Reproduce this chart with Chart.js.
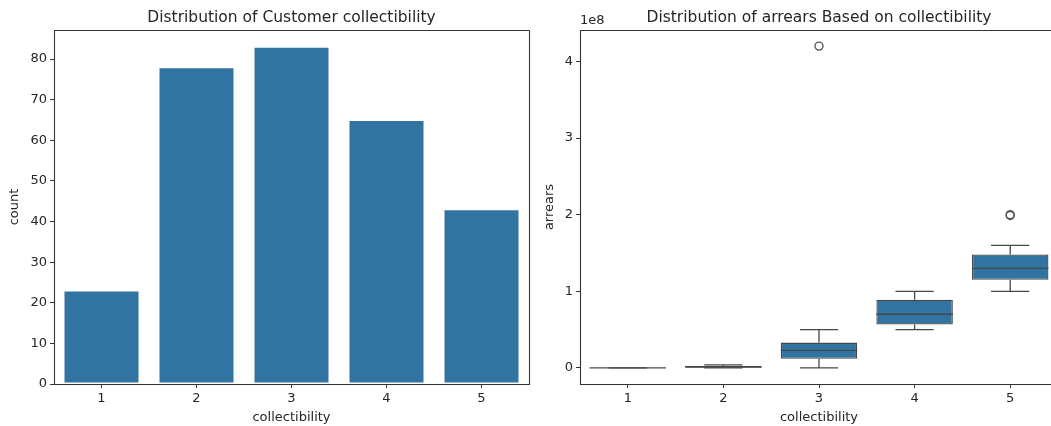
<!DOCTYPE html>
<html>
<head>
<meta charset="utf-8">
<script src="https://cdn.jsdelivr.net/npm/chart.js@4.4.1/dist/chart.umd.min.js"></script>
<style>
    html, body { margin: 0; padding: 0; background: #fff; overflow: hidden; width: 1051px; height: 426px; }
    canvas { position: absolute; top: 0; }
    #countChart { left: 0; }
    #arrearsChart { left: 535px; }
</style>
</head>
<body>
<canvas id="countChart" width="535" height="426"></canvas>
<canvas id="arrearsChart" width="535" height="426"></canvas>
<script>
// Data
const categories = ['1', '2', '3', '4', '5'];
const customerCounts = [23, 78, 83, 65, 43];
const countTicks = [0, 10, 20, 30, 40, 50, 60, 70, 80];

const arrearsWhiskerLow = [0, 0, 0, 0.5e8, 1.0e8];
const arrearsQ1 = [0, 0, 0.12e8, 0.565e8, 1.15e8];
const arrearsMedian = [0, 0.01e8, 0.23e8, 0.70e8, 1.30e8];
const arrearsQ3 = [0, 0.025e8, 0.33e8, 0.89e8, 1.48e8];
const arrearsWhiskerHigh = [0, 0.04e8, 0.5e8, 1.0e8, 1.6e8];
const outlierCats = ['3', '5', '5'];
const outlierVals = [4.2e8, 2.0e8, 1.99e8];
const arrearsTicks = [0, 1e8, 2e8, 3e8, 4e8];
const arrearsOffsetText = '1e8';

const FONT = 'DejaVu Sans';
const TEXT = '#262626';
const SPINE = '#333333';
const BLUE = '#3274a1';
const BOXLINE = '#474747';

Chart.defaults.font.family = FONT;
Chart.defaults.color = TEXT;
Chart.defaults.animation = false;

// Title drawn centred over the plot area, like matplotlib
function titlePlugin(text) {
    return {
        id: 'axTitle',
        afterDraw(chart) {
            const { ctx, chartArea } = chart;
            ctx.save();
            ctx.font = '15.5px "' + FONT + '"';
            ctx.fillStyle = TEXT;
            ctx.textAlign = 'center';
            ctx.textBaseline = 'alphabetic';
            ctx.fillText(text, (chartArea.left + chartArea.right) / 2, chartArea.top - 8);
            ctx.restore();
        }
    };
}

// Spines round the plot area (the right one of the second panel is cut off in the reference)
function spinePlugin(drawRight) {
    return {
        id: 'spines',
        afterDatasetsDraw(chart) {
            const { ctx, chartArea } = chart;
            const l = chartArea.left + 0.5, r = chartArea.right + 0.5;
            const t = chartArea.top + 0.5, b = chartArea.bottom + 0.5;
            ctx.save();
            ctx.strokeStyle = SPINE;
            ctx.lineWidth = 1.1;
            ctx.beginPath();
            ctx.moveTo(r, t); ctx.lineTo(l, t); ctx.lineTo(l, b); ctx.lineTo(r, b);
            if (drawRight) { ctx.lineTo(r, t); }
            ctx.stroke();
            ctx.restore();
        }
    };
}

function xScale(title) {
    return {
        offset: true,
        grid: { display: true, drawOnChartArea: false, drawTicks: true, tickLength: 4, tickColor: SPINE, offset: false },
        border: { display: false },
        ticks: { font: { size: 13 }, color: TEXT, padding: 3 },
        title: { display: true, text: title, font: { size: 13 }, color: TEXT, padding: { top: 0, bottom: 1 } },
        afterFit(scale) { scale.height = 42; }
    };
}

function yScale(title, min, max, tickValues, width, fmt) {
    return {
        min: min,
        max: max,
        grid: { display: true, drawOnChartArea: false, drawTicks: true, tickLength: 4, tickColor: SPINE },
        border: { display: false },
        ticks: { font: { size: 13 }, color: TEXT, padding: 3, callback: fmt },
        title: { display: true, text: title, font: { size: 13 }, color: TEXT, padding: { top: 7, bottom: 0 } },
        afterBuildTicks(scale) { scale.ticks = tickValues.map(v => ({ value: v })); },
        afterFit(scale) { scale.width = width; }
    };
}

// Left: count bar chart
new Chart(document.getElementById('countChart'), {
    type: 'bar',
    data: {
        labels: categories,
        datasets: [{
            data: customerCounts,
            backgroundColor: BLUE,
            borderColor: 'rgba(255,255,255,0.75)',
            borderWidth: 1,
            borderSkipped: false,
            barPercentage: 0.8,
            categoryPercentage: 1
        }]
    },
    options: {
        responsive: false,
        layout: { padding: { top: 30, right: 6, left: 0, bottom: 0 } },
        plugins: { legend: { display: false }, tooltip: { enabled: false } },
        scales: {
            x: xScale('collectibility'),
            y: yScale('count', 0, 87.15, countTicks, 54, v => v)
        }
    },
    plugins: [titlePlugin('Distribution of Customer collectibility'), spinePlugin(true)]
});

// Whiskers, caps and medians of the box plot, placed through the scales
const boxPlugin = {
    id: 'boxParts',
    afterDatasetsDraw(chart) {
        const { ctx } = chart;
        const y = chart.scales.y;
        const meta = chart.getDatasetMeta(0);
        ctx.save();
        ctx.strokeStyle = BOXLINE;
        ctx.lineWidth = 1.3;
        categories.forEach((c, i) => {
            const bar = meta.data[i];
            const cx = bar.x;
            const half = bar.width / 2;
            const cap = half / 2;
            const yLo = y.getPixelForValue(arrearsWhiskerLow[i]);
            const yQ1 = y.getPixelForValue(arrearsQ1[i]);
            const yQ3 = y.getPixelForValue(arrearsQ3[i]);
            const yHi = y.getPixelForValue(arrearsWhiskerHigh[i]);
            const yMed = y.getPixelForValue(arrearsMedian[i]);
            ctx.beginPath();
            ctx.moveTo(cx, yQ1); ctx.lineTo(cx, yLo);
            ctx.moveTo(cx, yQ3); ctx.lineTo(cx, yHi);
            ctx.moveTo(cx - cap, yLo); ctx.lineTo(cx + cap, yLo);
            ctx.moveTo(cx - cap, yHi); ctx.lineTo(cx + cap, yHi);
            ctx.stroke();
            ctx.beginPath();
            ctx.moveTo(cx - half, yMed); ctx.lineTo(cx + half, yMed);
            ctx.stroke();
        });
        ctx.restore();
    }
};

// Offset text above the y axis
const offsetTextPlugin = {
    id: 'offsetText',
    afterDraw(chart) {
        const { ctx, chartArea } = chart;
        ctx.save();
        ctx.font = '13px "' + FONT + '"';
        ctx.fillStyle = TEXT;
        ctx.textAlign = 'left';
        ctx.textBaseline = 'alphabetic';
        ctx.fillText(arrearsOffsetText, chartArea.left, chartArea.top - 6);
        ctx.restore();
    }
};

// Right: arrears box plot
new Chart(document.getElementById('arrearsChart'), {
    type: 'bar',
    data: {
        labels: categories,
        datasets: [{
            data: categories.map((c, i) => [arrearsQ1[i], arrearsQ3[i]]),
            backgroundColor: BLUE,
            borderColor: BOXLINE,
            borderWidth: 1.3,
            borderSkipped: false,
            barPercentage: 0.8,
            categoryPercentage: 1
        }, {
            type: 'line',
            data: outlierCats.map((c, i) => ({ x: c, y: outlierVals[i] })),
            showLine: false,
            pointRadius: 4,
            pointBackgroundColor: 'rgba(0,0,0,0)',
            pointBorderColor: '#555555',
            pointBorderWidth: 1.4
        }]
    },
    options: {
        responsive: false,
        layout: { padding: { top: 30, right: 12, left: 0, bottom: 0 } },
        plugins: { legend: { display: false }, tooltip: { enabled: false } },
        scales: {
            x: xScale('collectibility'),
            y: yScale('arrears', -0.21e8, 4.41e8, arrearsTicks, 45, v => v / 1e8)
        }
    },
    plugins: [titlePlugin('Distribution of arrears Based on collectibility'), boxPlugin, spinePlugin(false), offsetTextPlugin]
});
</script>
</body>
</html>
